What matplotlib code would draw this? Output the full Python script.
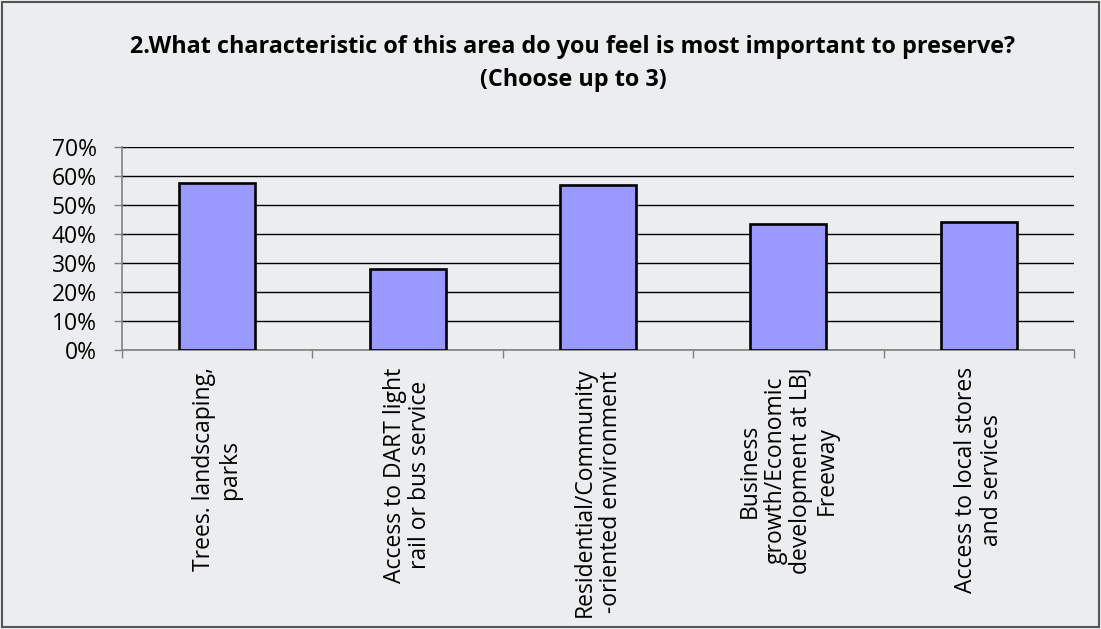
import numpy as np
import matplotlib.pyplot as plt
from matplotlib.ticker import PercentFormatter
from matplotlib.patches import Rectangle

plt.rcParams['font.family'] = ['Open Sans', 'DejaVu Sans']

# survey answers, share of respondents
labels = ['Trees. landscaping,\nparks',
          'Access to DART light\nrail or bus service',
          'Residential/Community\n-oriented environment',
          'Business\ngrowth/Economic\ndevelopment at LBJ\nFreeway',
          'Access to local stores\nand services']
shares = [0.575, 0.28, 0.57, 0.436, 0.441]
yticks = [0, 0.1, 0.2, 0.3, 0.4, 0.5, 0.6, 0.7]

bg = '#ECEDEF'
fig = plt.figure(figsize=(11.01, 6.29), dpi=100, facecolor=bg)
ax = fig.add_axes([122/1101, 1-350/629, (1074-122)/1101, (350-147)/629])
ax.set_facecolor(bg)

x = np.arange(len(shares))
ax.bar(x, shares, width=0.4, color='#9999FF', edgecolor='black', linewidth=1.9, zorder=3)

ax.set_xlim(-0.5, len(shares)-0.5)
ax.set_ylim(0, 0.7)
ax.set_yticks(yticks)
ax.yaxis.set_major_formatter(PercentFormatter(1.0, decimals=0))
ax.yaxis.grid(True, color='black', linewidth=1.0, zorder=0)
ax.tick_params(axis='y', labelsize=16.5, length=6, color='#808080', pad=12, width=1)

# category ticks sit between bars
ax.set_xticks(np.arange(-0.5, len(shares)), minor=False)
ax.set_xticklabels([])
ax.tick_params(axis='x', length=6, color='#808080', width=1, direction='out')
for i, lab in enumerate(labels):
    ax.text(i, -0.085, lab, rotation=90, ha='center', va='top', multialignment='center',
            fontsize=16.5, linespacing=1.1, transform=ax.get_xaxis_transform())

for s in ['top', 'right']:
    ax.spines[s].set_visible(False)
for s in ['left', 'bottom']:
    ax.spines[s].set_color('#808080')
    ax.spines[s].set_linewidth(1.2)

fig.text(573/1101, 1-47/629, '2.What characteristic of this area do you feel is most important to preserve?',
         ha='center', va='center', fontsize=16.8, fontweight='bold')
fig.text(573/1101, 1-80/629, '(Choose up to 3)', ha='center', va='center', fontsize=16.8, fontweight='bold')

# outer chart frame
fig.patches.append(Rectangle((0.002, 0.003), 0.996, 0.994, transform=fig.transFigure,
                             fill=False, edgecolor='#555555', linewidth=1.5))

fig.savefig('out.png', dpi=100, facecolor=bg)
